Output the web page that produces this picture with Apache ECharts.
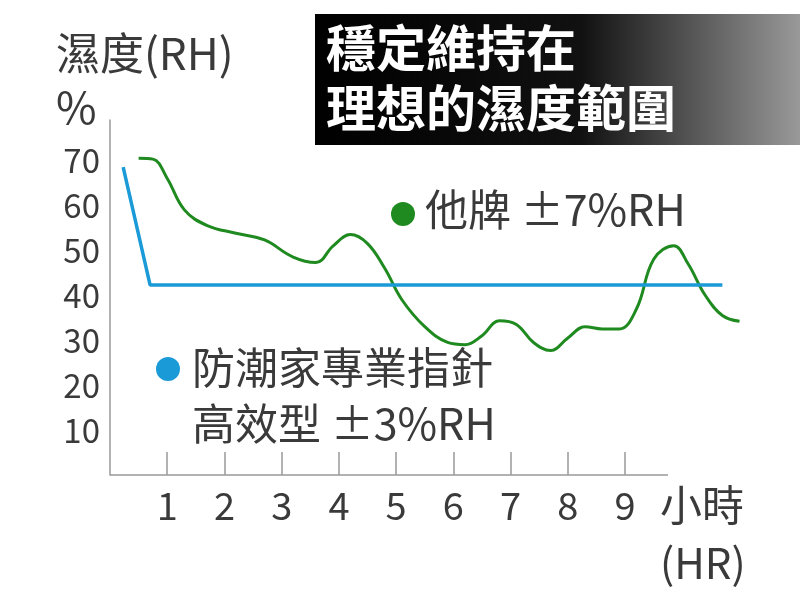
<!DOCTYPE html>
<html><head><meta charset="utf-8">
<script src="https://cdn.jsdelivr.net/npm/echarts@6/dist/echarts.min.js"></script>
<style>html,body{margin:0;padding:0;background:#fff}#c{width:800px;height:607px}</style>
</head><body><div id="c"></div>
<script>
var xTicks=[1,2,3,4,5,6,7,8,9];
var yTicks=[10,20,30,40,50,60,70];
var otherBrand=[[0.5,70.5],[0.75,70.3],[1.0,66],[1.3,59],[1.7,55.5],[2.2,53.8],[2.7,52.3],[3.2,48.5],[3.6,47.3],[3.9,51],[4.2,53.5],[4.5,51.5],[4.8,46],[5.1,39],[5.5,33],[5.9,29.5],[6.2,29],[6.5,31],[6.8,34.3],[7.1,33.5],[7.4,29.5],[7.7,27.7],[8.0,30.5],[8.3,33],[8.6,32.5],[8.9,32.5],[9.2,37],[9.5,48],[9.85,51],[10.1,47],[10.4,40],[10.7,35.5],[11.0,34.2]];
var ours=[[0.23,68.5],[0.7,42.3],[10.7,42.3]];
var fnt='"Noto Sans CJK TC","Noto Sans",sans-serif';
var ch=echarts.init(document.getElementById('c'));
ch.setOption({
 animation:false,
 grid:{left:110,right:49,top:120,bottom:132},
 xAxis:{type:'value',min:0,max:11.2,interval:1,
  axisLine:{show:false},splitLine:{show:false},
  axisTick:{show:true,inside:true,length:23,customValues:xTicks,lineStyle:{color:'#999',width:1.5}},
  axisLabel:{customValues:xTicks,color:'#3a3a3a',fontSize:38,fontFamily:fnt,margin:12}},
 yAxis:{type:'value',min:0,max:79,interval:10,
  axisLine:{show:true,lineStyle:{color:'#999',width:1.5}},axisTick:{show:false},splitLine:{show:false},
  axisLabel:{customValues:yTicks,color:'#3a3a3a',fontSize:33,fontFamily:fnt,margin:10}},
 series:[
  {type:'line',data:otherBrand,smooth:0.4,symbol:'none',lineStyle:{color:'#1f8a1f',width:3},
   markLine:{silent:true,symbol:'none',label:{show:false},lineStyle:{color:'#999',width:1.5,type:'solid'},
    data:[[{coord:[0,0]},{coord:[9.75,0]}]]}},
  {type:'line',data:ours,symbol:'none',lineStyle:{color:'#1a9ad6',width:3.5}}
 ],
 graphic:[
  {type:'rect',shape:{x:315,y:14,width:485,height:131},style:{fill:{type:'linear',x:0,y:0,x2:1,y2:0,colorStops:[{offset:0,color:'#000'},{offset:0.55,color:'#111'},{offset:1,color:'#999'}]}}},
  {type:'text',left:326,top:18,style:{text:'穩定維持在\n理想的濕度範圍',fill:'#fff',font:'bold 50px '+fnt,lineHeight:60}},
  {type:'text',left:56,top:26,style:{text:'濕度(RH)\n%',fill:'#3a3a3a',font:'44px '+fnt,lineHeight:54}},
  {type:'text',left:660,top:476,style:{text:'小時\n(HR)',fill:'#3a3a3a',font:'42px '+fnt,lineHeight:58}},
  {type:'circle',shape:{cx:403,cy:214,r:12},style:{fill:'#1f8a1f'}},
  {type:'text',left:425,top:188,style:{text:'他牌 ±7%RH',fill:'#3a3a3a',font:'43px '+fnt}},
  {type:'circle',shape:{cx:168,cy:369,r:12},style:{fill:'#1a9ad6'}},
  {type:'text',left:192,top:340,style:{text:'防潮家專業指針\n高效型 ±3%RH',fill:'#3a3a3a',font:'43px '+fnt,lineHeight:56}}
 ]
});
</script></body></html>
